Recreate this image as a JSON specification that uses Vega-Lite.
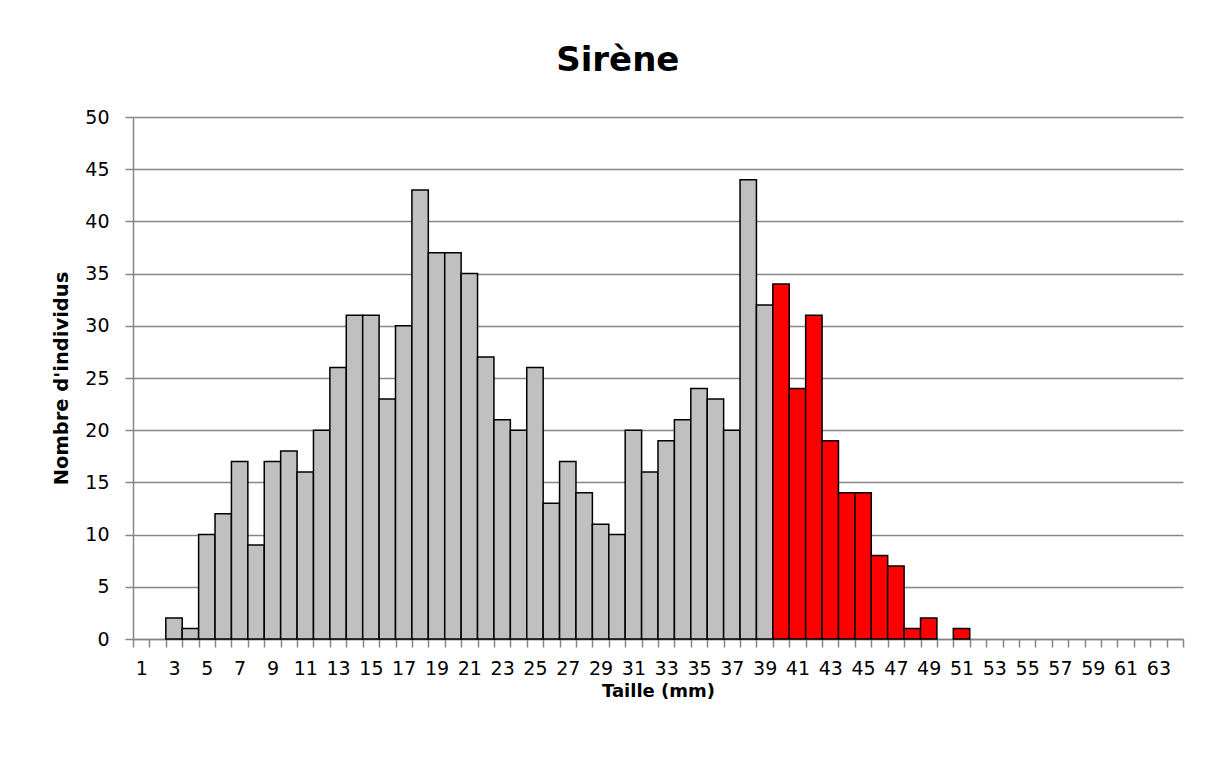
{
  "$schema": "https://vega.github.io/schema/vega-lite/v6.json",
  "width": 1050,
  "height": 522,
  "autosize": {"type": "none"},
  "padding": {"left": 133, "top": 117, "right": 30, "bottom": 119},
  "background": "white",
  "title": {
    "text": "Sirène",
    "font": "DejaVu Sans",
    "fontSize": 34,
    "fontWeight": "bold",
    "color": "#000000",
    "anchor": "middle",
    "frame": "bounds",
    "offset": 30
  },
  "config": {
    "view": {"stroke": null},
    "axis": {
      "labelFont": "DejaVu Sans",
      "titleFont": "DejaVu Sans",
      "labelColor": "#000000",
      "titleColor": "#000000",
      "domainColor": "#868686",
      "tickColor": "#868686",
      "gridColor": "#868686",
      "domainWidth": 1.5,
      "tickWidth": 1.5,
      "gridWidth": 1.5
    }
  },
  "data": {
    "values": [
      {"taille": 1, "n": 0}, {"taille": 2, "n": 0}, {"taille": 3, "n": 2}, {"taille": 4, "n": 1},
      {"taille": 5, "n": 10}, {"taille": 6, "n": 12}, {"taille": 7, "n": 17}, {"taille": 8, "n": 9},
      {"taille": 9, "n": 17}, {"taille": 10, "n": 18}, {"taille": 11, "n": 16}, {"taille": 12, "n": 20},
      {"taille": 13, "n": 26}, {"taille": 14, "n": 31}, {"taille": 15, "n": 31}, {"taille": 16, "n": 23},
      {"taille": 17, "n": 30}, {"taille": 18, "n": 43}, {"taille": 19, "n": 37}, {"taille": 20, "n": 37},
      {"taille": 21, "n": 35}, {"taille": 22, "n": 27}, {"taille": 23, "n": 21}, {"taille": 24, "n": 20},
      {"taille": 25, "n": 26}, {"taille": 26, "n": 13}, {"taille": 27, "n": 17}, {"taille": 28, "n": 14},
      {"taille": 29, "n": 11}, {"taille": 30, "n": 10}, {"taille": 31, "n": 20}, {"taille": 32, "n": 16},
      {"taille": 33, "n": 19}, {"taille": 34, "n": 21}, {"taille": 35, "n": 24}, {"taille": 36, "n": 23},
      {"taille": 37, "n": 20}, {"taille": 38, "n": 44}, {"taille": 39, "n": 32}, {"taille": 40, "n": 34},
      {"taille": 41, "n": 24}, {"taille": 42, "n": 31}, {"taille": 43, "n": 19}, {"taille": 44, "n": 14},
      {"taille": 45, "n": 14}, {"taille": 46, "n": 8}, {"taille": 47, "n": 7}, {"taille": 48, "n": 1},
      {"taille": 49, "n": 2}, {"taille": 50, "n": 0}, {"taille": 51, "n": 1}, {"taille": 52, "n": 0},
      {"taille": 53, "n": 0}, {"taille": 54, "n": 0}, {"taille": 55, "n": 0}, {"taille": 56, "n": 0},
      {"taille": 57, "n": 0}, {"taille": 58, "n": 0}, {"taille": 59, "n": 0}, {"taille": 60, "n": 0},
      {"taille": 61, "n": 0}, {"taille": 62, "n": 0}, {"taille": 63, "n": 0}, {"taille": 64, "n": 0}
    ]
  },
  "transform": [{"filter": "datum.n > 0"}],
  "mark": {"type": "bar", "stroke": "#000000", "strokeWidth": 1.5},
  "encoding": {
    "x": {
      "field": "taille",
      "type": "ordinal",
      "scale": {
        "domain": [1,2,3,4,5,6,7,8,9,10,11,12,13,14,15,16,17,18,19,20,21,22,23,24,25,26,27,28,29,30,31,32,33,34,35,36,37,38,39,40,41,42,43,44,45,46,47,48,49,50,51,52,53,54,55,56,57,58,59,60,61,62,63,64],
        "paddingInner": 0,
        "paddingOuter": 0
      },
      "axis": {
        "title": "Taille (mm)",
        "titleFontSize": 18,
        "titleFontWeight": "bold",
        "titlePadding": 4,
        "labelAngle": 0,
        "labelFontSize": 19,
        "labelPadding": 12,
        "labelOverlap": false,
        "labelExpr": "datum.value % 2 == 1 ? datum.label : ''",
        "tickBand": "extent",
        "tickSize": 8,
        "grid": false
      }
    },
    "y": {
      "field": "n",
      "type": "quantitative",
      "scale": {"domain": [0, 50], "nice": false},
      "axis": {
        "title": "Nombre d'individus",
        "titleFontSize": 19.5,
        "titleFontWeight": "bold",
        "titlePadding": 13,
        "values": [0, 5, 10, 15, 20, 25, 30, 35, 40, 45, 50],
        "labelFontSize": 19,
        "labelPadding": 16,
        "tickSize": 8,
        "grid": true
      }
    },
    "fill": {
      "condition": {"test": "datum.taille >= 40", "value": "#FF0000"},
      "value": "#C0C0C0"
    }
  }
}
